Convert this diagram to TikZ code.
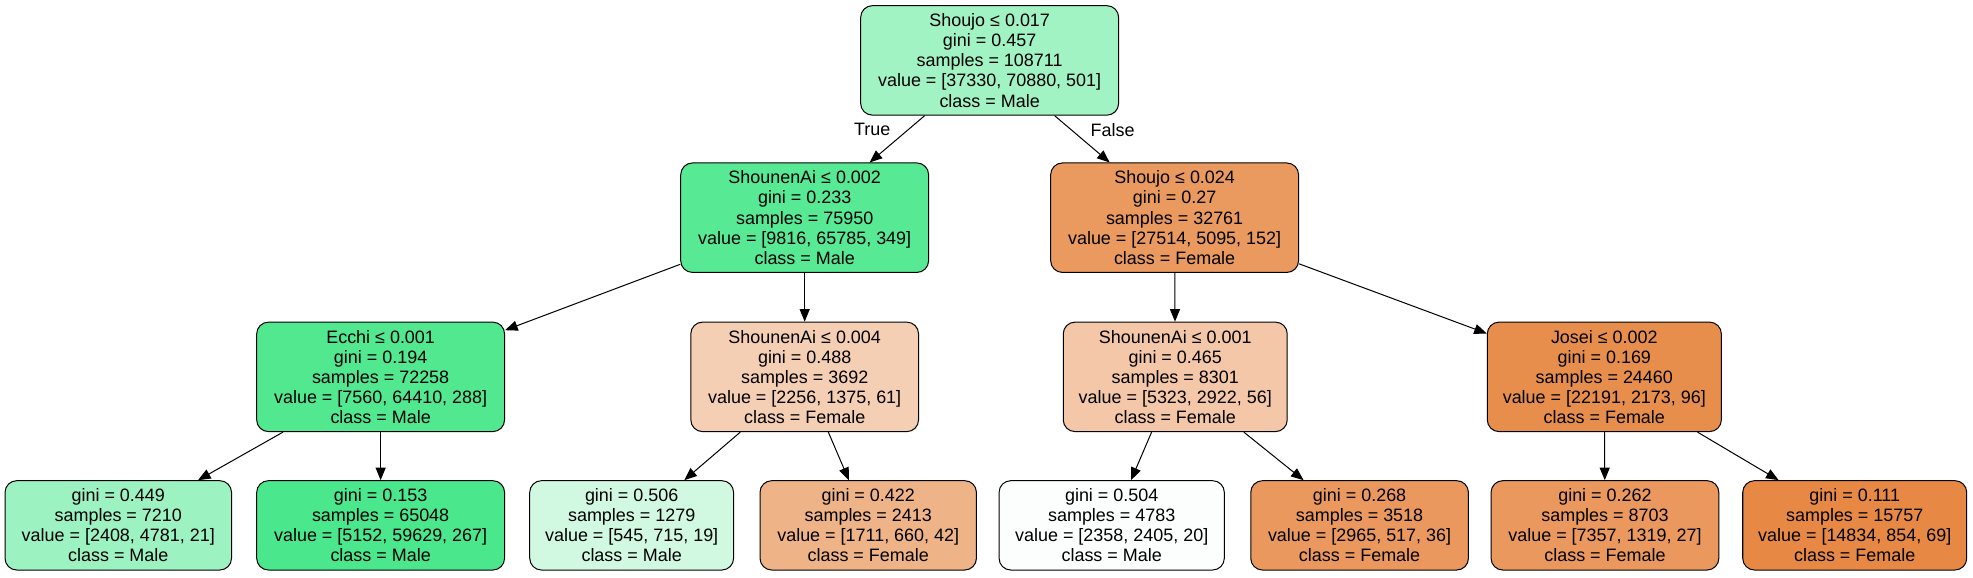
\documentclass[tikz,border=0pt]{standalone}
\usepackage{fontspec}
\setmainfont{Liberation Sans}
\usepackage{xcolor}
\usetikzlibrary{arrows.meta}
\tikzset{
  tree node/.style={draw, line width=0.6pt, rounded corners=7pt, align=center,
    inner sep=0pt, minimum height=65.25pt, font=\fontsize{10.7}{12}\selectfont},
  leaf node/.style={tree node, minimum height=53.25pt},
  edge/.style={line width=0.6pt, -{Triangle[length=7.5pt, width=6pt]}},
  edge label/.style={font=\fontsize{10.7}{12}\selectfont}
}
\definecolor{c0}{HTML}{A2F3C4}
\definecolor{c1}{HTML}{57E994}
\definecolor{c2}{HTML}{51E890}
\definecolor{c3}{HTML}{9DF2C1}
\definecolor{c4}{HTML}{4BE78C}
\definecolor{c5}{HTML}{F5CFB4}
\definecolor{c6}{HTML}{D1F9E2}
\definecolor{c7}{HTML}{EFB388}
\definecolor{c8}{HTML}{EA995F}
\definecolor{c9}{HTML}{F3C7A7}
\definecolor{c10}{HTML}{FBFEFD}
\definecolor{c11}{HTML}{EA985D}
\definecolor{c12}{HTML}{E88E4D}
\definecolor{c13}{HTML}{EA985D}
\definecolor{c14}{HTML}{E78945}
\begin{document}
\begin{tikzpicture}[x=0.75pt, y=-0.75pt]
\useasboundingbox (0,0) rectangle (1568,458.6);

%0
\node[tree node, fill=c0, minimum width=153.75pt] (n0) at (786.5,48)
  {Shoujo ≤ 0.017\\gini = 0.457\\samples = 108711\\value = [37330, 70880, 501]\\class = Male};

%1
\node[tree node, fill=c1, minimum width=147.75pt] (n1) at (639.5,173)
  {ShounenAi ≤ 0.002\\gini = 0.233\\samples = 75950\\value = [9816, 65785, 349]\\class = Male};
\node[tree node, fill=c8, minimum width=147.75pt] (n8) at (933.5,173)
  {Shoujo ≤ 0.024\\gini = 0.27\\samples = 32761\\value = [27514, 5095, 152]\\class = Female};

%2
\node[tree node, fill=c2, minimum width=147.75pt] (n2) at (302.5,299.5)
  {Ecchi ≤ 0.001\\gini = 0.194\\samples = 72258\\value = [7560, 64410, 288]\\class = Male};
\node[tree node, fill=c5, minimum width=135.75pt] (n5) at (639.5,299.5)
  {ShounenAi ≤ 0.004\\gini = 0.488\\samples = 3692\\value = [2256, 1375, 61]\\class = Female};
\node[tree node, fill=c9, minimum width=133.5pt] (n9) at (934,299.5)
  {ShounenAi ≤ 0.001\\gini = 0.465\\samples = 8301\\value = [5323, 2922, 56]\\class = Female};
\node[tree node, fill=c12, minimum width=139.5pt] (n12) at (1275,299.5)
  {Josei ≤ 0.002\\gini = 0.169\\samples = 24460\\value = [22191, 2173, 96]\\class = Female};

%3
\node[leaf node, fill=c3, minimum width=135pt] (n3) at (94,417.5)
  {gini = 0.449\\samples = 7210\\value = [2408, 4781, 21]\\class = Male};
\node[leaf node, fill=c4, minimum width=147.75pt] (n4) at (302.5,417.5)
  {gini = 0.153\\samples = 65048\\value = [5152, 59629, 267]\\class = Male};
\node[leaf node, fill=c6, minimum width=121.5pt] (n6) at (502,417.5)
  {gini = 0.506\\samples = 1279\\value = [545, 715, 19]\\class = Male};
\node[leaf node, fill=c7, minimum width=129pt] (n7) at (690,417.5)
  {gini = 0.422\\samples = 2413\\value = [1711, 660, 42]\\class = Female};
\node[leaf node, fill=c10, minimum width=134.25pt] (n10) at (883.5,417.5)
  {gini = 0.504\\samples = 4783\\value = [2358, 2405, 20]\\class = Male};
\node[leaf node, fill=c11, minimum width=129.75pt] (n11) at (1080.5,417.5)
  {gini = 0.268\\samples = 3518\\value = [2965, 517, 36]\\class = Female};
\node[leaf node, fill=c13, minimum width=135.75pt] (n13) at (1275.5,417.5)
  {gini = 0.262\\samples = 8703\\value = [7357, 1319, 27]\\class = Female};
\node[leaf node, fill=c14, minimum width=133.5pt] (n14) at (1474,417.5)
  {gini = 0.111\\samples = 15757\\value = [14834, 854, 69]\\class = Female};

% edges
\draw[edge] (n0) -- node[edge label, pos=0.3, anchor=east, xshift=-7pt]{True} (n1);
\draw[edge] (n0) -- node[edge label, pos=0.3, anchor=west, xshift=8pt]{False} (n8);
\draw[edge] (n1) -- (n2);
\draw[edge] (n1) -- (n5);
\draw[edge] (n8) -- (n9);
\draw[edge] (n8) -- (n12);
\draw[edge] (n2) -- (n3);
\draw[edge] (n2) -- (n4);
\draw[edge] (n5) -- (n6);
\draw[edge] (n5) -- (n7);
\draw[edge] (n9) -- (n10);
\draw[edge] (n9) -- (n11);
\draw[edge] (n12) -- (n13);
\draw[edge] (n12) -- (n14);

\end{tikzpicture}
\end{document}
